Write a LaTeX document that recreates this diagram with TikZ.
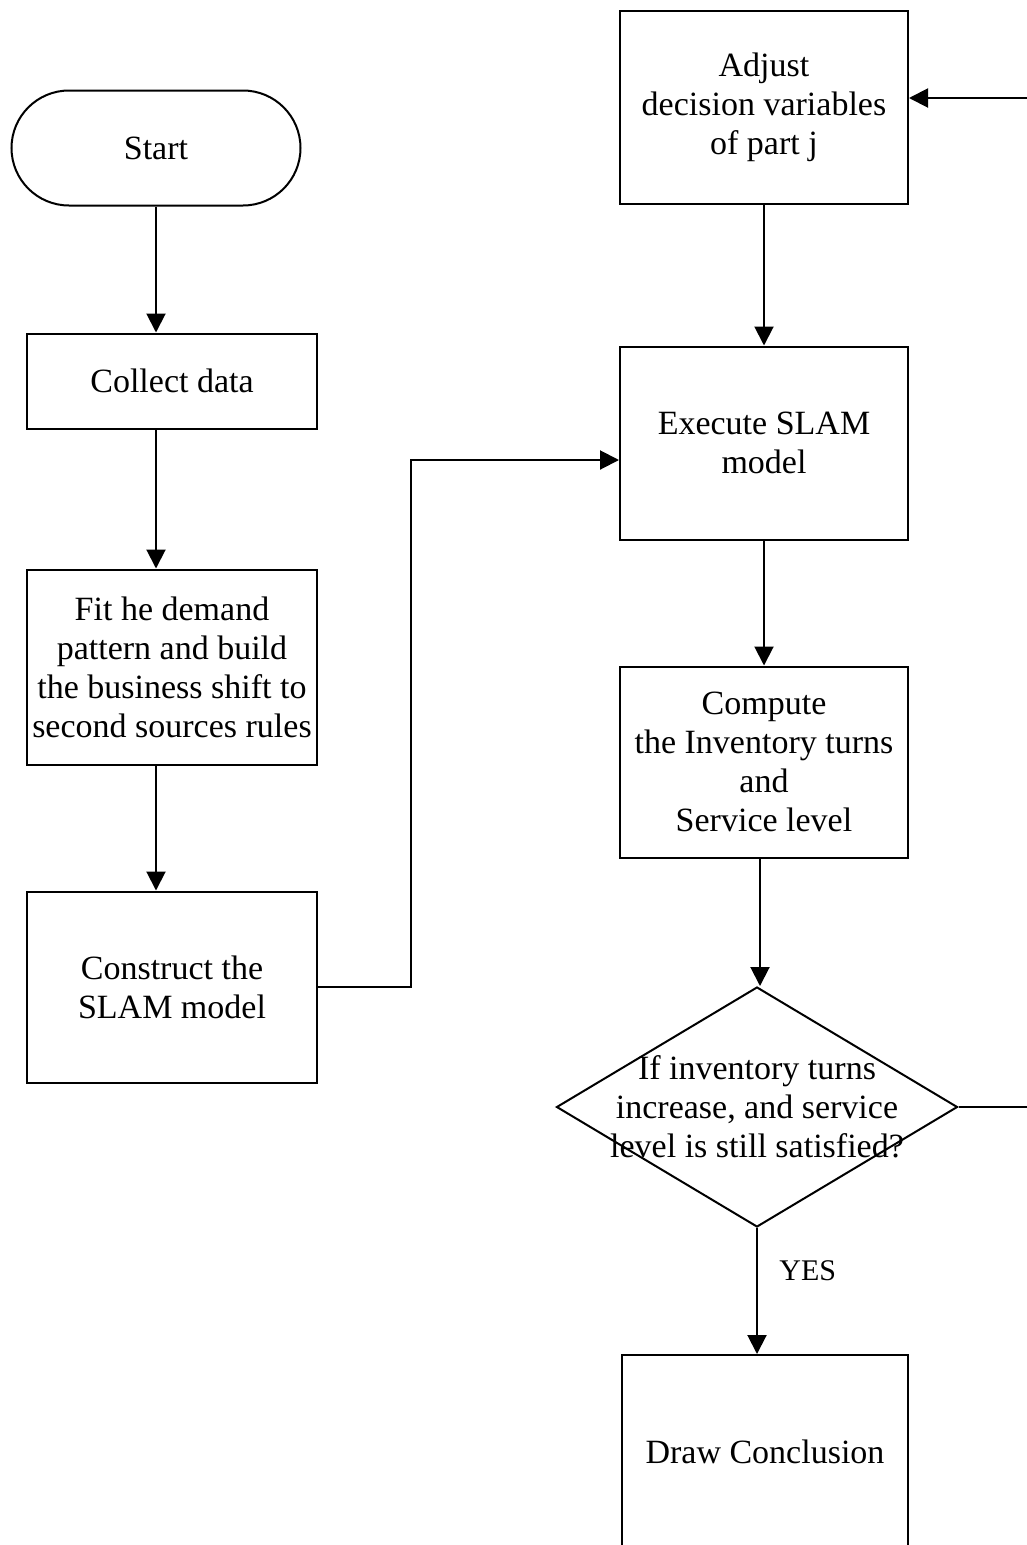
\documentclass[tikz,border=0pt]{standalone}
\usepackage{fontspec}
\setmainfont{Liberation Serif}
\usetikzlibrary{arrows.meta,positioning,calc,shapes.geometric,shapes.misc}

\begin{document}
\begin{tikzpicture}[x=1pt, y=-1pt,
  every node/.style={font=\fontsize{34}{39}\selectfont},
  box/.style={draw, line width=2pt, align=center, inner sep=0pt, minimum width=290pt},
  term/.style={rounded rectangle, draw, line width=2pt, inner sep=0pt,
               minimum width=289pt, minimum height=115pt},
  decision/.style={diamond, draw, line width=2pt, inner sep=0pt,
                   minimum width=401pt, minimum height=240pt},
  arr/.style={line width=2pt, -{Triangle[length=19pt,width=19pt]}}]

\useasboundingbox (0,0) rectangle (1027,1545);
\clip (0,0) rectangle (1027,1545);

% ======================================================================
% LEFT COLUMN : START, DATA, SLAM MODEL
% ======================================================================
\node[term] (start) at (156,148) {Start};
\node[box, minimum height=95pt] (collect) at (172,381) {Collect data};
\node[box, minimum height=195pt] (fit) at (172,667)
  {Fit he demand\\pattern and build\\the business shift to\\second sources rules};
\node[box, minimum height=191pt] (construct) at (172,987) {Construct the\\SLAM model};

\draw[arr] (start.south) -- (start.south |- collect.north);
\draw[arr] (start.south |- collect.south) -- (start.south |- fit.north);
\draw[arr] (start.south |- fit.south) -- (start.south |- construct.north);

% ======================================================================
% RIGHT COLUMN : SIMULATION LOOP
% ======================================================================
\node[box, minimum width=288pt, minimum height=193pt] (adjust) at (764,107)
  {Adjust\\decision variables\\of part j};
\node[box, minimum width=288pt, minimum height=193pt] (execute) at (764,443)
  {Execute SLAM\\model};
\node[box, minimum width=288pt, minimum height=191pt] (compute) at (764,762)
  {Compute\\the Inventory turns\\and\\Service level};

% decision diamond (text runs over its edges, as in the source)
\node[decision] (decide) at (757,1107) {};
\node[align=center, inner sep=0pt] (decidetext) at (decide.center)
  {If inventory turns\\increase, and service\\level is still satisfied?};

\node[box, minimum width=286pt, minimum height=194pt] (conclude) at (765,1452)
  {Draw Conclusion};

% connectors
\coordinate (bend) at (411,0);
\coordinate (rail) at (1040,0);
\draw[arr] (construct.east) -- (construct.east -| bend) |- ($(execute.west)+(0,17)$);
\draw[arr] (adjust.south) -- (execute.north);
\draw[arr] (execute.south) -- (compute.north);
\draw[arr] ($(compute.south -| decide.north)+(3,0)$) -- ($(decide.north)+(3,0)$);
\draw[arr] (decide.south) -- (decide.south |- conclude.north)
  node[pos=0.34, anchor=west, xshift=18pt, font=\fontsize{30}{34}\selectfont] (yes) {YES};
\draw[arr] (decide.east) -- (decide.east -| rail) |- ($(adjust.east)+(0,-9)$);

\end{tikzpicture}
\end{document}
